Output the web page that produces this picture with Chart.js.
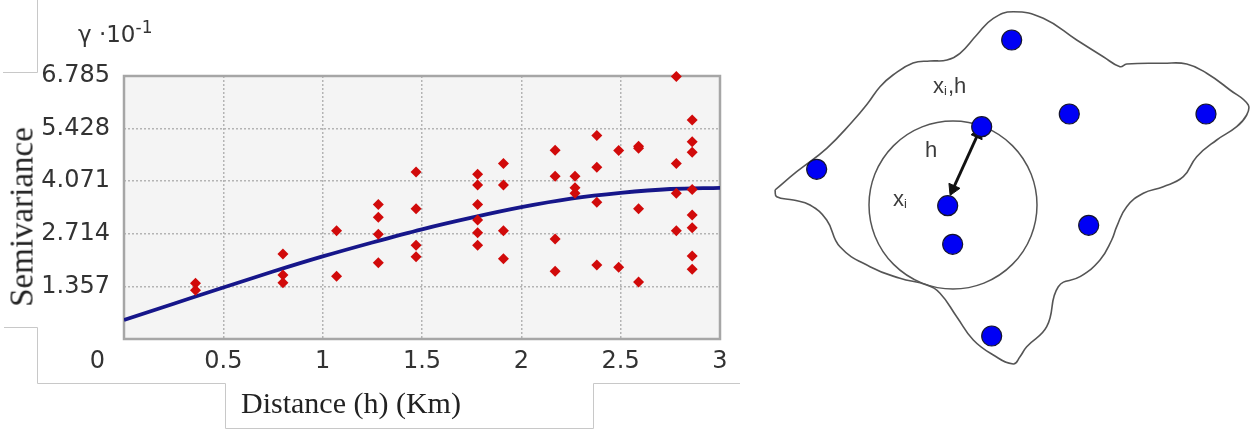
<!DOCTYPE html>
<html lang="en">
<head>
<meta charset="UTF-8" />
<title>Semivariogram</title>
<script src="https://cdn.jsdelivr.net/npm/chart.js"></script>
<style>
  html, body { margin: 0; padding: 0; background: #fff; }
  body { width: 1250px; height: 429px; position: relative; overflow: hidden; }
  #variogram { position: absolute; left: 0; top: 0; }
  #diagram { position: absolute; left: 760px; top: 0; }
  #frames { position: absolute; left: 0; top: 0; }
  .lbl { position: absolute; white-space: nowrap; color: #222; }
  #gamma { left: 78px; top: 23px; font: 23px "DejaVu Sans"; line-height: 23px; color: #333; }
  #gamma sup { font-size: 17px; vertical-align: 9px; line-height: 0; }
  #ytitle { font: 33px "Liberation Serif"; line-height: 33px; left: 22px; top: 217px; transform: translate(-50%, -50%) rotate(-90deg); }
  #xtitle { font: 30px "Liberation Serif"; line-height: 30px; left: 241px; top: 388px; }
</style>
</head>
<body>
  <!-- light frames left over from the pasted figure -->
  <svg id="frames" width="1250" height="429">
    <g fill="none" stroke="#c8c8c8" stroke-width="1">
      <polyline points="37.5,0 37.5,72.5 3,72.5" />
      <polyline points="4,327.5 37.5,327.5 37.5,383.5 225.5,383.5 225.5,428.5 593.5,428.5 593.5,383.5 740,383.5" />
    </g>
  </svg>

  <canvas id="variogram" width="740" height="429"></canvas>
  <canvas id="diagram" width="490" height="429"></canvas>

  <div class="lbl" id="gamma">γ ·10<sup>-1</sup></div>
  <div class="lbl" id="ytitle">Semivariance</div>
  <div class="lbl" id="xtitle">Distance (h) (Km)</div>

<script>
  //experimental semivariogram: lag bins and the pair values in each bin
  const lagBins = [0.36, 0.80, 1.07, 1.28, 1.47, 1.78, 1.91, 2.17, 2.27, 2.38, 2.49, 2.59, 2.78, 2.86];
  const binValues = [
    [1.44, 1.26],
    [2.19, 1.65, 1.45],
    [2.79, 1.62],
    [3.47, 3.14, 2.70, 1.97],
    [4.31, 3.36, 2.42, 2.12],
    [4.25, 3.97, 3.47, 3.07, 2.74, 2.42],
    [4.53, 3.97, 2.79, 2.07],
    [4.87, 4.20, 2.58, 1.75],
    [4.20, 3.90, 3.76],
    [5.25, 4.43, 3.53, 1.91],
    [4.86, 1.85],
    [4.97, 4.92, 3.36, 1.47],
    [6.77, 4.53, 3.76, 2.79],
    [5.65, 5.09, 4.82, 3.86, 3.20, 2.87, 2.14, 1.80],
  ];

  //fitted model
  const modelDistance = [0, 0.25, 0.5, 0.75, 1, 1.25, 1.5, 1.75, 2, 2.25, 2.5, 2.75, 3];
  const modelGamma = [0.49, 0.91, 1.33, 1.74, 2.13, 2.49, 2.83, 3.13, 3.40, 3.62, 3.77, 3.87, 3.90];

  //axis ticks
  const xTicks = [0, 0.5, 1, 1.5, 2, 2.5, 3];
  const yTicks = [1.357, 2.714, 4.071, 5.428, 6.785];

  //sketch on the right: sample sites, boundary, search circle, lag arrow
  const siteX = [251.7, 309.3, 446, 221.7, 56.7, 187.7, 192.7, 328.7, 231.7];
  const siteY = [40, 114, 114, 126.7, 169.3, 205.7, 244.3, 225.3, 336];
  const boundaryX = [15, 36.7, 66.7, 92, 108, 120, 133, 153, 170, 187, 200, 216.7, 233.3, 253.3, 283.3, 316.7, 343.3, 360, 366.7,
    403.3, 426.7, 446.7, 470, 488.3, 486.7, 476.7, 456.7, 436.7, 423.3, 403.3, 383.3, 366.7, 356.7, 351.7, 340, 320,
    298.3, 286.7, 266.7, 260, 253.3, 233.3, 213.3, 196.7, 180, 166.7, 140, 110, 80, 66.7, 50, 33.3, 16.7, 15];
  const boundaryY = [190, 171.7, 148.3, 122, 103, 86.7, 75, 63, 61, 60, 53.3, 35, 18.3, 11.7, 18.3, 40, 56.7, 66.7, 64,
    63.3, 64, 73.3, 90, 105, 115, 126.7, 140, 156.7, 176.7, 186.7, 193.3, 206.7, 226.7, 240, 260, 276.7,
    286.7, 326.7, 346.7, 356.7, 364, 355, 340, 316.7, 293.3, 285, 278.3, 266.7, 246.7, 220, 205, 200, 196.7, 190];
  const circleCenter = { x: 193, y: 205 };
  const circleRadius = 84;
  const arrowX = [218, 193];
  const arrowY = [134, 189];

  //scatter points built from the bins
  const pairPoints = [];
  lagBins.forEach((d, i) => {
    binValues[i].forEach((g) => pairPoints.push({ x: d, y: g }));
  });
  const modelPoints = modelDistance.map((d, i) => ({ x: d, y: modelGamma[i] }));

  const tickFont = { family: "DejaVu Sans", size: 24 };

  //grey plot background + frame
  const plotFrame = {
    id: "plotFrame",
    beforeDraw(chart) {
      const a = chart.chartArea;
      chart.ctx.save();
      chart.ctx.fillStyle = "#f4f4f4";
      chart.ctx.fillRect(a.left, a.top, a.right - a.left, a.bottom - a.top);
      chart.ctx.restore();
    },
    beforeDatasetsDraw(chart) {
      const a = chart.chartArea;
      const ctx = chart.ctx;
      ctx.save();
      ctx.strokeStyle = "#a6a6a6";
      ctx.lineWidth = 2.5;
      ctx.strokeRect(a.left, a.top, a.right - a.left, a.bottom - a.top);
      ctx.restore();
    },
  };

  const variogram = new Chart(document.getElementById("variogram"), {
    type: "scatter",
    data: {
      datasets: [
        {
          label: "Semivariance",
          data: pairPoints,
          pointStyle: "rectRot",
          pointRadius: 5.5,
          backgroundColor: "#d10a0a",
          borderColor: "#d10a0a",
          borderWidth: 0,
          clip: false,
        },
        {
          label: "Model",
          data: modelPoints,
          showLine: true,
          pointRadius: 0,
          borderColor: "#16168a",
          borderWidth: 3.8,
          cubicInterpolationMode: "monotone",
        },
      ],
    },
    plugins: [plotFrame],
    options: {
      responsive: false,
      animation: false,
      events: [],
      layout: { autoPadding: false, padding: { top: 76, right: 20, left: 0, bottom: 0 } },
      plugins: { legend: { display: false }, tooltip: { enabled: false } },
      scales: {
        x: {
          type: "linear",
          min: 0,
          max: 3,
          afterFit: (s) => { s.height = 90; },
          afterBuildTicks: (s) => { s.ticks = xTicks.map((v) => ({ value: v })); },
          ticks: {
            font: tickFont,
            color: "#333",
            padding: 8,
            autoSkip: false,
            maxRotation: 0,
            //the zero label sits left of the axis in the original
            callback: (v) => (v === 0 ? "0" + "\u00a0".repeat(7) : String(v)),
          },
          grid: { color: "#b4b4b4", lineWidth: 1.5, drawTicks: false },
          border: { display: false, dash: [2, 2] },
        },
        y: {
          type: "linear",
          min: 0,
          max: 6.785,
          afterFit: (s) => { s.width = 124; },
          afterBuildTicks: (s) => { s.ticks = yTicks.map((v) => ({ value: v })); },
          ticks: {
            font: tickFont,
            color: "#333",
            padding: 14,
            callback: (v) => v.toFixed(3),
          },
          grid: { color: "#b4b4b4", lineWidth: 1.5, drawTicks: false },
          border: { display: false, dash: [2, 2] },
        },
      },
    },
  });

  //text labels of the sketch, drawn in sketch units
  const sketchNotes = [
    { main: "x", sub: "i", tail: ",h", x: 173, y: 93 },
    { main: "h", sub: "", tail: "", x: 165, y: 157 },
    { main: "x", sub: "i", tail: "", x: 133, y: 206 },
  ];

  const sketchText = {
    id: "sketchText",
    afterDatasetsDraw(chart) {
      const ctx = chart.ctx;
      const sx = chart.scales.x;
      const sy = chart.scales.y;
      ctx.save();
      ctx.fillStyle = "#3c3c3c";
      ctx.textBaseline = "alphabetic";
      sketchNotes.forEach((n) => {
        let px = sx.getPixelForValue(n.x);
        const py = sy.getPixelForValue(n.y);
        ctx.font = '22px "Liberation Sans"';
        ctx.fillText(n.main, px, py);
        px += ctx.measureText(n.main).width;
        if (n.sub) {
          ctx.font = '13px "Liberation Sans"';
          ctx.fillText(n.sub, px, py + 2);
          px += ctx.measureText(n.sub).width + 1;
        }
        if (n.tail) {
          ctx.font = '22px "Liberation Sans"';
          ctx.fillText(n.tail, px, py);
        }
      });
      ctx.restore();
    },
  };

  //arrowheads pointing away from the other end
  const arrowRotation = arrowX.map((x, i) => {
    const j = 1 - i;
    return (Math.atan2(x - arrowX[j], -(arrowY[i] - arrowY[j])) * 180) / Math.PI;
  });

  const diagram = new Chart(document.getElementById("diagram"), {
    type: "scatter",
    data: {
      datasets: [
        {
          label: "Sites",
          data: siteX.map((x, i) => ({ x: x, y: siteY[i] })),
          pointRadius: 10,
          backgroundColor: "#0000f5",
          borderColor: "#14142e",
          borderWidth: 1.2,
          clip: false,
        },
        {
          label: "Lag",
          data: arrowX.map((x, i) => ({ x: x, y: arrowY[i] })),
          showLine: true,
          borderColor: "#111",
          borderWidth: 3,
          pointStyle: "triangle",
          pointRadius: 7,
          pointRotation: arrowRotation,
          pointBackgroundColor: "#111",
          pointBorderColor: "#111",
          pointBorderWidth: 1,
        },
        {
          label: "Search radius",
          data: [circleCenter],
          pointRadius: circleRadius,
          backgroundColor: "rgba(0,0,0,0)",
          borderColor: "#555",
          borderWidth: 1.5,
          clip: false,
        },
        {
          label: "Boundary",
          data: boundaryX.map((x, i) => ({ x: x, y: boundaryY[i] })),
          showLine: true,
          pointRadius: 0,
          borderColor: "#555",
          borderWidth: 1.6,
          tension: 0.45,
          clip: false,
        },
      ],
    },
    plugins: [sketchText],
    options: {
      responsive: false,
      animation: false,
      events: [],
      layout: { autoPadding: false, padding: 0 },
      plugins: { legend: { display: false }, tooltip: { enabled: false } },
      scales: {
        x: { type: "linear", min: 0, max: 490, display: false },
        y: { type: "linear", min: 0, max: 429, reverse: true, display: false },
      },
    },
  });
</script>
</body>
</html>
